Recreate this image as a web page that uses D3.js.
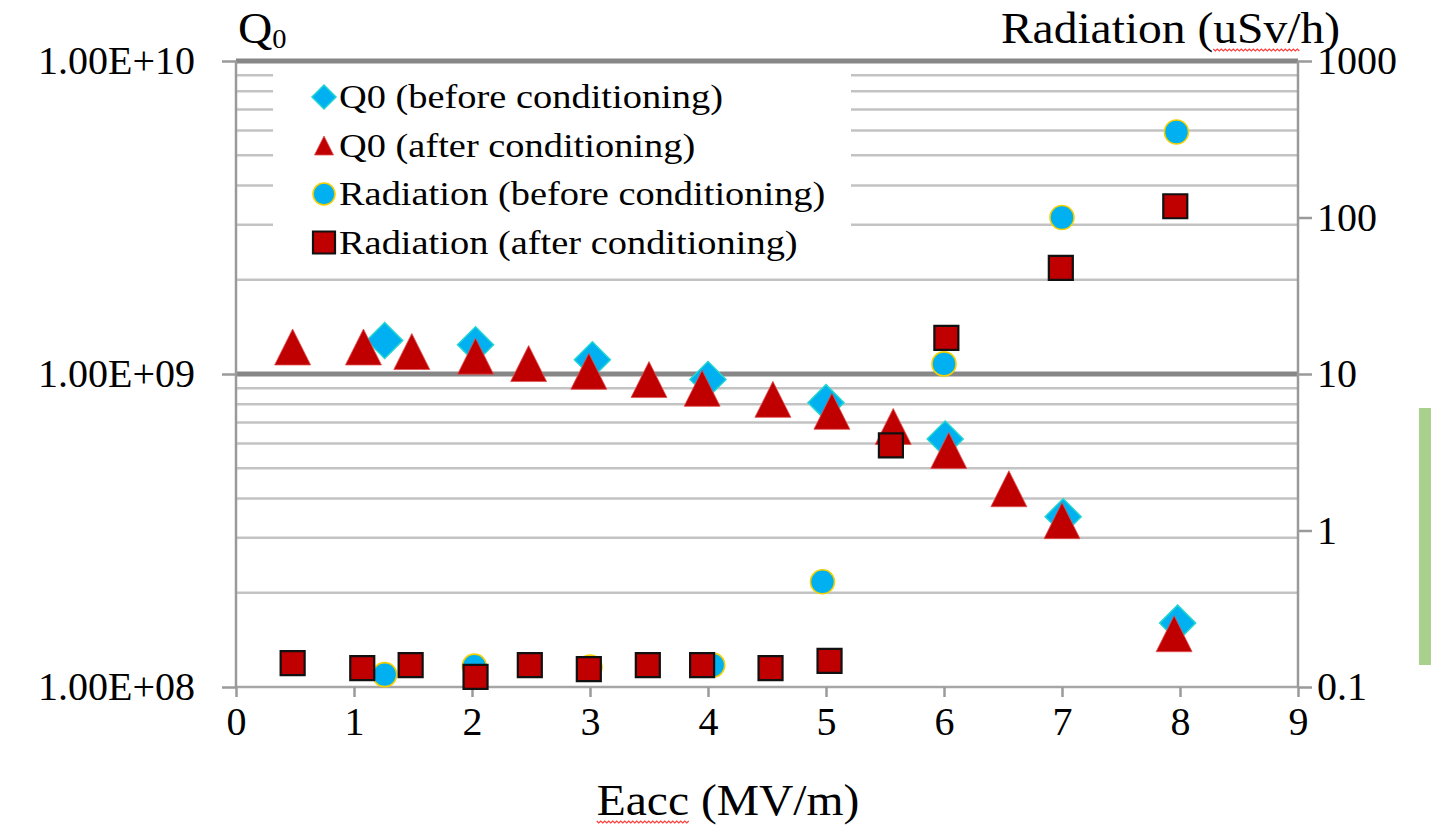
<!DOCTYPE html>
<html><head><meta charset="utf-8">
<script src="https://cdn.jsdelivr.net/npm/d3@7"></script>
<style>
body{margin:0;background:#fff;}
text{font-family:"Liberation Serif","DejaVu Serif",serif;fill:#000;}
</style></head>
<body><svg id="chart"></svg>
<script>
// data
const q0BeforeE = [1.26, 2.03, 3.02, 4.0, 5.0, 6.01, 7.01, 7.98];
const q0Before = [1.28e9, 1.24e9, 1.11e9, 9.6e8, 8.1e8, 6.2e8, 3.5e8, 1.6e8];
const q0AfterE = [0.48, 1.08, 1.49, 2.03, 2.48, 2.99, 3.5, 3.95, 4.55, 5.05, 5.57, 6.04, 6.55, 7.0, 7.95];
const q0After = [1.22e9, 1.22e9, 1.18e9, 1.14e9, 1.08e9, 1.02e9, 9.6e8, 9.0e8, 8.3e8, 7.6e8, 6.8e8, 5.7e8, 4.3e8, 3.4e8, 1.48e8];
const radBeforeE = [1.26, 2.02, 3.0, 4.04, 4.97, 6.0, 7.0, 7.97];
const radBefore = [0.12, 0.136, 0.134, 0.138, 0.47, 11.6, 100, 352];
const radAfterE = [0.48, 1.07, 1.48, 2.03, 2.49, 2.99, 3.49, 3.95, 4.53, 5.03, 5.55, 6.02, 6.99, 7.96];
const radAfter = [0.142, 0.132, 0.138, 0.116, 0.138, 0.13, 0.138, 0.138, 0.132, 0.147, 3.5, 17, 47.6, 118];
const xTicks = [0,1,2,3,4,5,6,7,8,9];
const leftTicks = [1e8, 1e9, 1e10];
const rightTicks = [0.1, 1, 10, 100, 1000];
const legendNames = ['Q0 (before conditioning)', 'Q0 (after conditioning)', 'Radiation (before conditioning)', 'Radiation (after conditioning)'];

const W = 1431, H = 827;
const TICK_FS = 40, TITLE_FS = 44, TITLE_SX = 1.08, LEG_FS = 34, LEG_SX = 1.13;
const svg = d3.select('#chart').attr('width', W).attr('height', H);
const x = d3.scaleLinear().domain([0, 9]).range([236, 1298]);
const yL = d3.scaleLog().domain([1e8, 1e10]).range([687, 61]);
const yR = d3.scaleLog().domain([0.1, 1000]).range([687, 61]);

// minor gridlines
const minor = [];
[1e8, 1e9].forEach(b => { for (let k = 2; k <= 9; k++) minor.push(b * k); });
svg.append('g').selectAll('line').data(minor).enter().append('line')
  .attr('x1', x(0)).attr('x2', x(9)).attr('y1', d => yL(d)).attr('y2', d => yL(d))
  .attr('stroke', '#c3c3c3').attr('stroke-width', 2.5);

// legend box hides gridlines behind it
svg.append('rect').attr('x', 273).attr('y', 67).attr('width', 578).attr('height', 203).attr('fill', '#fff');

// major gridlines
svg.append('g').selectAll('line').data([1e9, 1e10]).enter().append('line')
  .attr('x1', x(0)).attr('x2', x(9)).attr('y1', d => yL(d)).attr('y2', d => yL(d))
  .attr('stroke', '#878787').attr('stroke-width', 5);

// axes
const axisStyle = g => { g.select('.domain').remove(); g.selectAll('line').attr('stroke', '#9a9a9a').attr('stroke-width', 2.5);
  g.selectAll('text').attr('font-size', TICK_FS).attr('fill', '#000').style('font-family', '"Liberation Serif",serif'); };
svg.append('line').attr('x1', x(0)).attr('x2', x(9)).attr('y1', yL(1e8)).attr('y2', yL(1e8)).attr('stroke', '#a6a6a6').attr('stroke-width', 2.5);
svg.append('line').attr('x1', x(0)).attr('x2', x(0)).attr('y1', yL(1e10)).attr('y2', yL(1e8)).attr('stroke', '#9a9a9a').attr('stroke-width', 2.5);
svg.append('line').attr('x1', x(9)).attr('x2', x(9)).attr('y1', yL(1e10)).attr('y2', yL(1e8)).attr('stroke', '#9a9a9a').attr('stroke-width', 2.5);

svg.append('g').attr('transform', 'translate(0,' + yL(1e8) + ')')
  .call(d3.axisBottom(x).tickValues(xTicks).tickFormat(d3.format('d')).tickSize(10).tickPadding(10))
  .call(axisStyle);
svg.append('g').attr('transform', 'translate(' + x(0) + ',0)')
  .call(d3.axisLeft(yL).tickValues(leftTicks).tickSize(14).tickPadding(27)
    .tickFormat(d => '1.00E+' + String(Math.round(Math.log10(d))).padStart(2, '0')))
  .call(axisStyle);
svg.append('g').attr('transform', 'translate(' + x(9) + ',0)')
  .call(d3.axisRight(yR).tickValues(rightTicks).tickSize(14).tickPadding(5).tickFormat(d => String(d)))
  .call(axisStyle);

// titles
const t1 = svg.append('text').attr('transform', 'translate(238,43) scale(' + TITLE_SX + ',1)').attr('font-size', TITLE_FS);
t1.append('tspan').text('Q');
t1.append('tspan').attr('font-size', TITLE_FS * 0.6).attr('dy', 5).text('0');
const t2 = svg.append('text').attr('transform', 'translate(1340,43) scale(' + TITLE_SX + ',1)').attr('font-size', TITLE_FS).attr('text-anchor', 'end').text('Radiation (uSv/h)');
const t3 = svg.append('text').attr('transform', 'translate(728,815) scale(' + TITLE_SX + ',1)').attr('font-size', TITLE_FS).attr('text-anchor', 'middle').text('Eacc (MV/m)');

// red spell-check squiggles under part of a title
function squiggle(t, from, n) {
  const node = t.node(), tr = node.transform.baseVal.consolidate().matrix;
  const full = node.getComputedTextLength();
  const anchorShift = t.attr('text-anchor') === 'end' ? -full : t.attr('text-anchor') === 'middle' ? -full / 2 : 0;
  const x0 = tr.e + (anchorShift + (from ? node.getSubStringLength(0, from) : 0)) * tr.a;
  const x1 = x0 + node.getSubStringLength(from, n) * tr.a;
  const y0 = tr.f + 6;
  let p = 'M' + x0 + ',' + y0;
  for (let xx = x0 + 2, k = 1; xx <= x1; xx += 2, k++) p += 'L' + xx + ',' + (y0 + (k % 2 ? 2 : 0));
  svg.append('path').attr('d', p).attr('fill', 'none').attr('stroke', '#ff3b3b').attr('stroke-width', 1.2);
}
squiggle(t2, 11, 4);
squiggle(t3, 0, 4);

// markers
const rhombus = { draw(ctx, size) { const r = Math.sqrt(size) / 2; ctx.moveTo(0, -r); ctx.lineTo(r, 0); ctx.lineTo(0, r); ctx.lineTo(-r, 0); ctx.closePath(); } };
const tri = { draw(ctx, size) { const r = Math.sqrt(size) / 2; ctx.moveTo(0, -r); ctx.lineTo(r, r); ctx.lineTo(-r, r); ctx.closePath(); } };
const styles = [
  { type: rhombus, size: 36 * 36, legendSize: 24 * 24, fill: '#00b0f0', stroke: '#22d6d0', sw: 1.5 },
  { type: tri, size: 36 * 36, legendSize: 19 * 19, fill: '#c00000', stroke: '#e05050', sw: 0.8 },
  { type: d3.symbolCircle, size: Math.PI * 12 * 12, legendSize: Math.PI * 11 * 11, fill: '#00b0f0', stroke: '#f5d000', sw: 1.6 },
  { type: d3.symbolSquare, size: 24 * 24, legendSize: 22 * 22, fill: '#c00000', stroke: '#111', sw: 2.2 }
];
const series = [
  { e: q0BeforeE, v: q0Before, y: yL },
  { e: q0AfterE, v: q0After, y: yL },
  { e: radBeforeE, v: radBefore, y: yR },
  { e: radAfterE, v: radAfter, y: yR }
];
series.forEach((s, i) => {
  const st = styles[i];
  svg.append('g').selectAll('path').data(s.e.map((e, j) => [e, s.v[j]])).enter().append('path')
    .attr('transform', d => 'translate(' + x(d[0]) + ',' + s.y(d[1]) + ')')
    .attr('d', d3.symbol().type(st.type).size(st.size))
    .attr('fill', st.fill).attr('stroke', st.stroke).attr('stroke-width', st.sw);
});

// legend
const leg = svg.append('g').selectAll('g').data(legendNames).enter().append('g')
  .attr('transform', (d, i) => 'translate(324,' + (97 + i * 48.5) + ')');
leg.append('path').attr('d', (d, i) => d3.symbol().type(styles[i].type).size(styles[i].legendSize)())
  .attr('fill', (d, i) => styles[i].fill).attr('stroke', (d, i) => styles[i].stroke).attr('stroke-width', (d, i) => styles[i].sw);
leg.append('text').attr('transform', 'translate(15,11) scale(' + LEG_SX + ',1)').attr('font-size', LEG_FS).text(d => d);

// green change bar at the right edge
svg.append('rect').attr('x', 1419).attr('y', 408).attr('width', 12).attr('height', 257).attr('fill', '#a9d18e');
</script></body></html>
